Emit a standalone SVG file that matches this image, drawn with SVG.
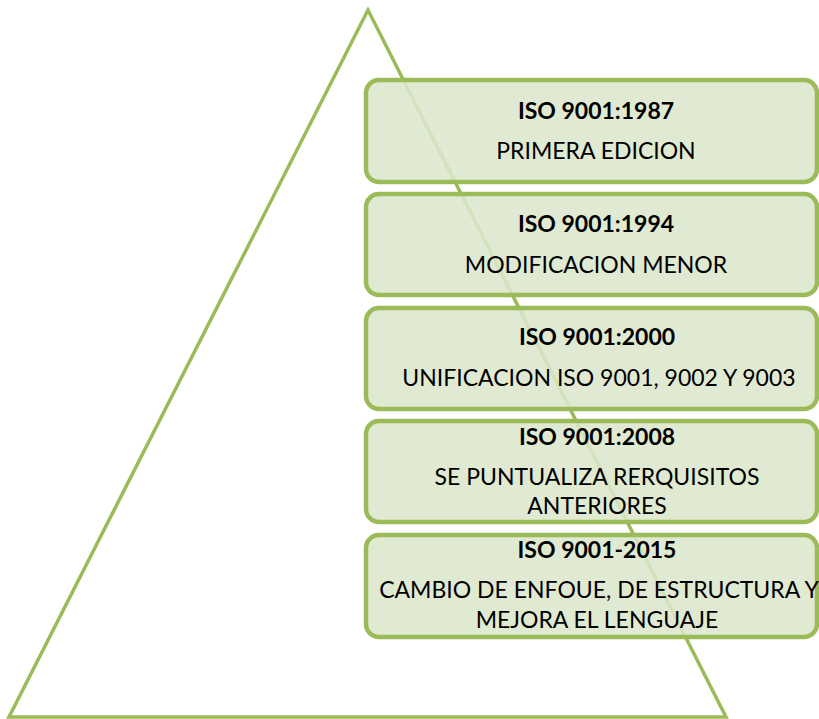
<svg xmlns="http://www.w3.org/2000/svg" width="819" height="719" viewBox="0 0 819 719">
<style>
.box{fill:#DCE6CB;fill-opacity:0.88;stroke:#9BBB59;stroke-width:4.5}
.t{font-family:"Lato","Liberation Sans",sans-serif;font-size:23px;fill:#000;text-anchor:middle}
.b{font-weight:bold}
</style>
<rect width="819" height="719" fill="#fff"/>
<g id="triangle">
<polygon points="368,10 9,717 726,717" fill="none" stroke="#9BBB59" stroke-width="3.5" stroke-linejoin="miter"/>
</g>
<g id="n1">
<rect class="box" x="366" y="80" width="451" height="102" rx="13"/>
<text class="t b" x="596" y="119">ISO 9001:1987</text>
<text class="t" x="596" y="159">PRIMERA EDICION</text>
</g>
<g id="n2">
<rect class="box" x="366" y="194" width="451" height="101" rx="13"/>
<text class="t b" x="596" y="232">ISO 9001:1994</text>
<text class="t" x="596" y="273">MODIFICACION MENOR</text>
</g>
<g id="n3">
<rect class="box" x="366" y="308" width="451" height="101" rx="13"/>
<text class="t b" x="597" y="345">ISO 9001:2000</text>
<text class="t" x="599" y="386">UNIFICACION ISO 9001, 9002 Y 9003</text>
</g>
<g id="n4">
<rect class="box" x="366" y="421" width="451" height="101" rx="13"/>
<text class="t b" x="597" y="445">ISO 9001:2008</text>
<text class="t" x="597" y="485">SE PUNTUALIZA RERQUISITOS</text>
<text class="t" x="597" y="514">ANTERIORES</text>
</g>
<g id="n5">
<rect class="box" x="366" y="535" width="451" height="102" rx="13"/>
<text class="t b" x="597" y="558">ISO 9001-2015</text>
<text class="t" x="599" y="598">CAMBIO DE ENFOUE, DE ESTRUCTURA Y</text>
<text class="t" x="597" y="628">MEJORA EL LENGUAJE</text>
</g>
<g id="connectors"></g>
</svg>
